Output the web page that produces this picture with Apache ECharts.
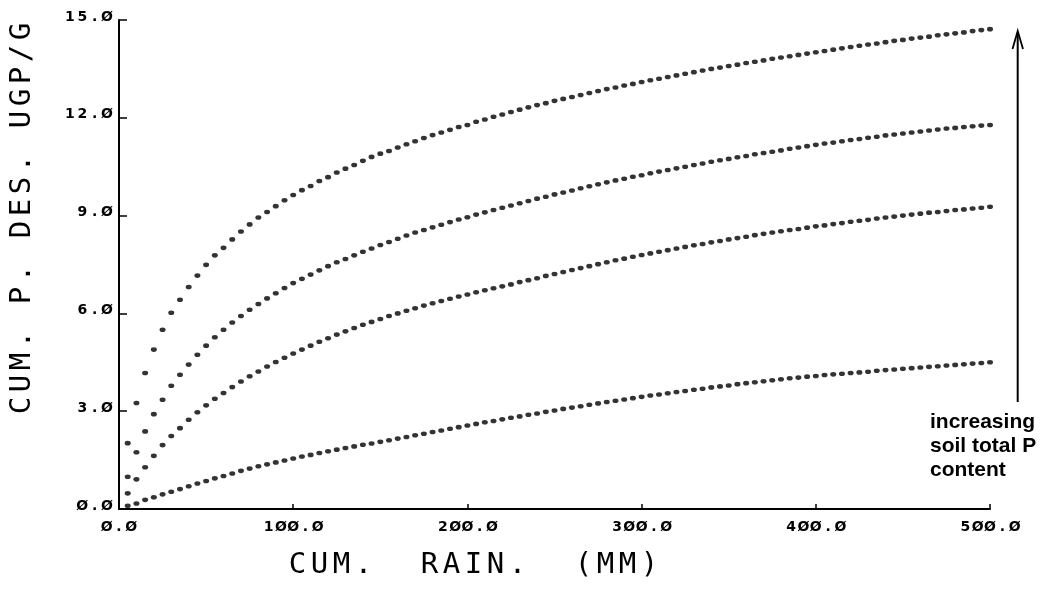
<!DOCTYPE html>
<html>
<head>
<meta charset="utf-8">
<title>Cumulative P desorbed vs cumulative rain</title>
<script src="https://cdn.jsdelivr.net/npm/echarts@6.0.0/dist/echarts.min.js"></script>
<style>
  html, body { margin: 0; padding: 0; background: #ffffff; }
  #chart { width: 1053px; height: 594px; }
</style>
</head>
<body>
<div id="chart"></div>
<script>
// Cumulative rain (mm) at which each point was computed
const rain = [
  5, 10, 15, 20, 25, 30, 35, 40, 45, 50,
  55, 60, 65, 70, 75, 80, 85, 90, 95, 100,
  105, 110, 115, 120, 125, 130, 135, 140, 145, 150,
  155, 160, 165, 170, 175, 180, 185, 190, 195, 200,
  205, 210, 215, 220, 225, 230, 235, 240, 245, 250,
  255, 260, 265, 270, 275, 280, 285, 290, 295, 300,
  305, 310, 315, 320, 325, 330, 335, 340, 345, 350,
  355, 360, 365, 370, 375, 380, 385, 390, 395, 400,
  405, 410, 415, 420, 425, 430, 435, 440, 445, 450,
  455, 460, 465, 470, 475, 480, 485, 490, 495, 500
];

// Cumulative P desorbed (ug P / g soil), one array per soil, highest total P first
const soilHighestP = [
  2.02, 3.25, 4.17, 4.89, 5.50, 6.02, 6.42, 6.81, 7.16, 7.49,
  7.78, 8.01, 8.27, 8.51, 8.73, 8.94, 9.11, 9.29, 9.47, 9.63,
  9.78, 9.91, 10.06, 10.18, 10.32, 10.44, 10.55, 10.68, 10.80, 10.90,
  10.98, 11.09, 11.19, 11.28, 11.38, 11.47, 11.55, 11.63, 11.72, 11.78,
  11.88, 11.95, 12.03, 12.10, 12.18, 12.25, 12.32, 12.39, 12.45, 12.52,
  12.58, 12.64, 12.70, 12.76, 12.82, 12.88, 12.93, 12.99, 13.04, 13.10,
  13.15, 13.20, 13.25, 13.30, 13.35, 13.40, 13.45, 13.50, 13.54, 13.59,
  13.63, 13.68, 13.72, 13.76, 13.81, 13.85, 13.89, 13.93, 13.97, 14.01,
  14.05, 14.09, 14.13, 14.17, 14.21, 14.25, 14.28, 14.32, 14.36, 14.39,
  14.43, 14.46, 14.49, 14.53, 14.56, 14.59, 14.62, 14.66, 14.69, 14.72
];

const soilHighP = [
  0.99, 1.74, 2.38, 2.91, 3.35, 3.78, 4.12, 4.43, 4.73, 5.01,
  5.27, 5.50, 5.72, 5.92, 6.11, 6.29, 6.46, 6.62, 6.78, 6.93,
  7.06, 7.19, 7.32, 7.45, 7.57, 7.67, 7.78, 7.89, 7.99, 8.10,
  8.19, 8.29, 8.39, 8.48, 8.56, 8.64, 8.72, 8.80, 8.88, 8.95,
  9.03, 9.10, 9.17, 9.24, 9.31, 9.38, 9.45, 9.52, 9.58, 9.65,
  9.71, 9.77, 9.84, 9.90, 9.96, 10.02, 10.08, 10.13, 10.19, 10.24,
  10.30, 10.35, 10.40, 10.45, 10.50, 10.55, 10.60, 10.65, 10.70, 10.74,
  10.79, 10.83, 10.88, 10.92, 10.96, 11.00, 11.05, 11.09, 11.13, 11.17,
  11.21, 11.24, 11.28, 11.32, 11.35, 11.39, 11.42, 11.46, 11.49, 11.52,
  11.55, 11.58, 11.61, 11.64, 11.67, 11.69, 11.72, 11.74, 11.76, 11.78
];

const soilMediumP = [
  0.48, 0.91, 1.28, 1.63, 1.96, 2.24, 2.48, 2.74, 2.97, 3.18,
  3.38, 3.56, 3.74, 3.91, 4.07, 4.22, 4.37, 4.51, 4.64, 4.77,
  4.89, 5.01, 5.13, 5.24, 5.35, 5.45, 5.55, 5.65, 5.74, 5.83,
  5.92, 6.00, 6.08, 6.16, 6.24, 6.31, 6.38, 6.45, 6.52, 6.58,
  6.65, 6.71, 6.77, 6.83, 6.89, 6.96, 7.02, 7.08, 7.15, 7.21,
  7.27, 7.33, 7.39, 7.45, 7.51, 7.57, 7.63, 7.68, 7.74, 7.79,
  7.84, 7.89, 7.94, 7.99, 8.04, 8.09, 8.13, 8.18, 8.22, 8.27,
  8.31, 8.35, 8.40, 8.44, 8.48, 8.52, 8.56, 8.59, 8.63, 8.67,
  8.70, 8.74, 8.77, 8.81, 8.84, 8.87, 8.91, 8.94, 8.97, 9.00,
  9.03, 9.06, 9.09, 9.11, 9.14, 9.17, 9.19, 9.22, 9.24, 9.27
];

const soilLowP = [
  0.10, 0.17, 0.28, 0.36, 0.45, 0.53, 0.61, 0.70, 0.78, 0.86,
  0.94, 1.01, 1.09, 1.17, 1.24, 1.31, 1.37, 1.43, 1.49, 1.55,
  1.61, 1.66, 1.72, 1.77, 1.82, 1.87, 1.92, 1.97, 2.01, 2.06,
  2.11, 2.16, 2.21, 2.26, 2.31, 2.36, 2.41, 2.46, 2.51, 2.56,
  2.61, 2.66, 2.70, 2.75, 2.80, 2.84, 2.89, 2.93, 2.98, 3.02,
  3.07, 3.11, 3.15, 3.20, 3.24, 3.28, 3.32, 3.36, 3.40, 3.44,
  3.48, 3.51, 3.55, 3.59, 3.62, 3.66, 3.69, 3.73, 3.76, 3.79,
  3.83, 3.86, 3.89, 3.92, 3.95, 3.98, 4.01, 4.03, 4.06, 4.08,
  4.11, 4.13, 4.15, 4.17, 4.19, 4.21, 4.24, 4.26, 4.28, 4.30,
  4.32, 4.34, 4.36, 4.38, 4.40, 4.42, 4.44, 4.46, 4.48, 4.50
];

// Axis ranges and tick steps
const xRange = [0, 500];
const xStep = 100;
const yRange = [0, 15];
const yStep = 3;

// Text
const xTitle = 'CUM.  RAIN.  (MM)';
const yTitle = 'CUM. P. DES. UGP/G';
const noteLines = ['increasing', 'soil total P', 'content'];

// Plotter-style lettering: every character sits in a fixed-width cell
function cells(text, style) {
  return text.split('').map(function (ch) { return '{' + style + '|' + ch + '}'; }).join('');
}
function tickText(v) {
  return cells(v.toFixed(1).replace(/0/g, 'Ø'), 'c');
}

const ink = '#000000';
const tickRich = {
  c: {
    width: 12.3,
    align: 'center',
    fontFamily: 'DejaVu Sans',
    fontWeight: 'bold',
    fontSize: 14,
    color: ink
  }
};
const titleCell = {
  width: 22,
  align: 'center',
  fontFamily: 'DejaVu Sans Mono',
  fontSize: 29,
  color: ink
};

function curve(values) {
  return rain.map(function (x, i) { return [x, values[i]]; });
}

function dotSeries(name, values) {
  return {
    name: name,
    type: 'scatter',
    data: curve(values),
    symbol: 'circle',
    symbolSize: [6, 4.6],
    itemStyle: { color: ink },
    silent: true
  };
}

const chart = echarts.init(document.getElementById('chart'), null, { renderer: 'canvas' });

chart.setOption({
  animation: false,
  backgroundColor: '#ffffff',
  grid: { left: 119, right: 63, top: 20, bottom: 85, containLabel: false },
  xAxis: {
    type: 'value',
    min: xRange[0],
    max: xRange[1],
    interval: xStep,
    axisLine: { show: true, onZero: false, lineStyle: { color: ink, width: 2 } },
    axisTick: { show: true, inside: true, length: 5, lineStyle: { color: ink, width: 1.5 } },
    splitLine: { show: false },
    axisLabel: {
      margin: 11,
      formatter: tickText,
      rich: tickRich
    }
  },
  yAxis: {
    type: 'value',
    min: yRange[0],
    max: yRange[1],
    interval: yStep,
    axisLine: { show: true, onZero: false, lineStyle: { color: ink, width: 2 } },
    axisTick: { show: true, inside: true, length: 8, lineStyle: { color: ink, width: 1.5 } },
    splitLine: { show: false },
    axisLabel: {
      margin: 6,
      padding: [0, 0, 6, 0],
      formatter: tickText,
      rich: tickRich
    }
  },
  series: [
    dotSeries('highest total P', soilHighestP),
    dotSeries('high total P', soilHighP),
    dotSeries('medium total P', soilMediumP),
    dotSeries('low total P', soilLowP)
  ],
  graphic: [
    {
      type: 'text',
      x: 22,
      y: 218.5,
      rotation: Math.PI / 2,
      silent: true,
      style: {
        text: cells(yTitle, 't'),
        align: 'center',
        verticalAlign: 'middle',
        rich: { t: titleCell }
      }
    },
    {
      type: 'text',
      x: 473.5,
      y: 565,
      silent: true,
      style: {
        text: cells(xTitle, 't'),
        align: 'center',
        verticalAlign: 'middle',
        rich: { t: titleCell }
      }
    },
    {
      type: 'line',
      silent: true,
      shape: { x1: 1017.7, y1: 402, x2: 1017.7, y2: 33 },
      style: { stroke: ink, lineWidth: 2 }
    },
    {
      type: 'polyline',
      silent: true,
      shape: { points: [[1012.5, 49], [1017.7, 31], [1023, 49]] },
      style: { stroke: ink, lineWidth: 1.8, fill: null }
    },
    {
      type: 'text',
      x: 930,
      y: 410,
      silent: true,
      style: {
        text: noteLines.join('\n'),
        align: 'left',
        verticalAlign: 'top',
        lineHeight: 24,
        fontFamily: 'Liberation Sans',
        fontWeight: 'bold',
        fontSize: 21,
        fill: ink
      }
    }
  ]
});
</script>
</body>
</html>
